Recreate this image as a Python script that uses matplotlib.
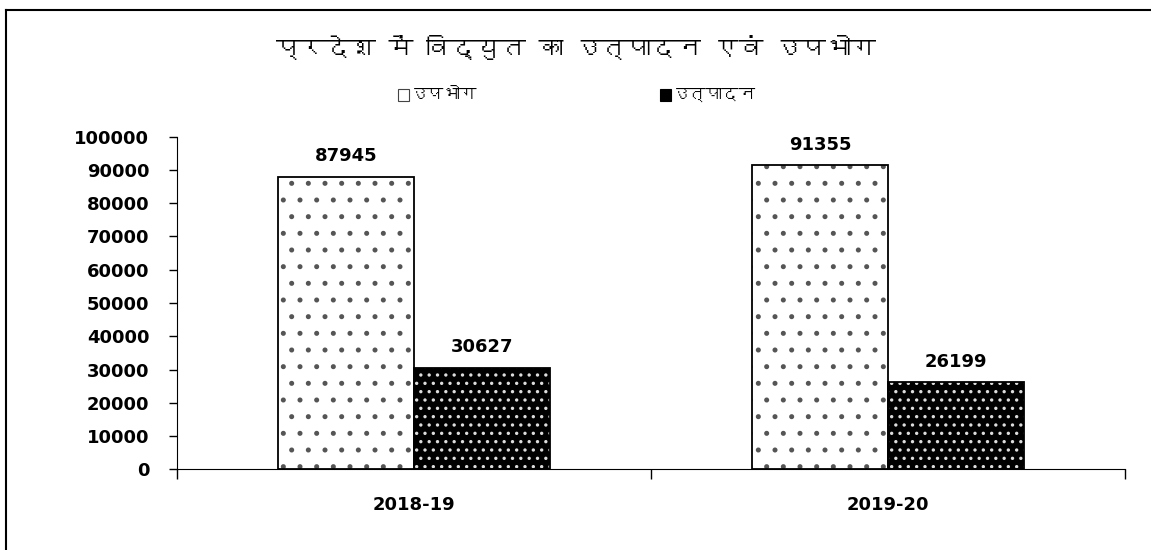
import matplotlib
matplotlib.use("Agg")
import matplotlib.pyplot as plt
from matplotlib import font_manager
from matplotlib.patches import Rectangle
from matplotlib.lines import Line2D
import numpy as np

# datos
categories = ["2018-19", "2019-20"]
upbhog = [87945, 91355]      # उपभोग
utpadan = [30627, 26199]     # उत्पादन
series_names = ["उपभोग", "उत्पादन"]
title = "प्रदेश में विद्युत का उत्पादन एवं उपभोग"
yticks = list(range(0, 100001, 10000))


def find_devanagari_font():
    """Busca una fuente instalada con glifos devanagari."""
    try:
        from fontTools.ttLib import TTFont
    except ImportError:
        return None
    for f in font_manager.fontManager.ttflist:
        try:
            tt = TTFont(f.fname, fontNumber=0, lazy=True)
            cmap = tt.getBestCmap() or {}
            if 0x0915 in cmap and 0x092A in cmap:
                return f.name
        except Exception:
            continue
    return None


deva = find_devanagari_font()
hindi_family = [deva, "DejaVu Sans"] if deva else ["DejaVu Sans"]
num_font = "DejaVu Sans"
plt.rcParams["hatch.linewidth"] = 1.2

fig = plt.figure(figsize=(11.51, 5.50), dpi=100)
ax = fig.add_axes([0.1538, 0.1464, 0.8236, 0.6054])

x = np.arange(len(categories))
w = 0.287

# serie 1: blanca con puntos
ax.bar(x - w / 2, upbhog, w, color="white", edgecolor="#555555",
       hatch=".", linewidth=0, zorder=2)
ax.bar(x - w / 2, upbhog, w, fill=False, edgecolor="black", linewidth=1.3, zorder=3)
# serie 2: negra con puntos blancos
ax.bar(x + w / 2, utpadan, w, color="black", edgecolor="#dddddd",
       hatch="..", linewidth=0, zorder=2)
ax.bar(x + w / 2, utpadan, w, fill=False, edgecolor="black", linewidth=1.3, zorder=3)

for xi, v in list(zip(x - w / 2, upbhog)) + list(zip(x + w / 2, utpadan)):
    ax.text(xi, v + 3500, str(v), ha="center", va="bottom",
            fontsize=13, fontweight="bold", family=num_font)

ax.set_xlim(-0.5, 1.5)
ax.set_ylim(0, 100000)
ax.set_yticks(yticks)
ax.set_yticklabels([str(t) for t in yticks], fontsize=13, fontweight="bold", family=num_font)
ax.set_xticks([-0.5, 0.5, 1.5])
ax.set_xticklabels([])
ax.tick_params(axis="x", length=7, width=1, direction="out")
ax.tick_params(axis="y", length=6, width=1, direction="out", pad=14)
for i, c in enumerate(categories):
    ax.text(i, -10800, c, ha="center", va="center", fontsize=13,
            fontweight="bold", family=num_font)

for s in ["top", "right"]:
    ax.spines[s].set_visible(False)

fig.text(0.5, 1 - 47 / 550, title, ha="center", va="center",
         fontsize=18, family=hindi_family)

# leyenda manual
lx1, lx2, ly = 398 / 1151, 660 / 1151, 1 - 95 / 550
pw, ph = 11 / 1151, 11 / 550
fig.patches.append(Rectangle((lx1, ly - ph / 2), pw, ph, transform=fig.transFigure,
                             facecolor="white", edgecolor="#444444", lw=0.8))
fig.patches.append(Rectangle((lx2, ly - ph / 2), pw, ph, transform=fig.transFigure,
                             facecolor="black", edgecolor="black", lw=0.8))
fig.text(lx1 + pw + 0.002, ly, series_names[0], ha="left", va="center",
         fontsize=12, family=hindi_family)
fig.text(lx2 + pw + 0.002, ly, series_names[1], ha="left", va="center",
         fontsize=12, family=hindi_family)

# borde exterior (solo izquierda y arriba, recortado)
fig.add_artist(Line2D([5.5 / 1151, 5.5 / 1151], [0, 1 - 10 / 550],
                      transform=fig.transFigure, color="black", lw=1.5))
fig.add_artist(Line2D([5.5 / 1151, 1], [1 - 10 / 550, 1 - 10 / 550],
                      transform=fig.transFigure, color="black", lw=1.5))

fig.savefig("out.png", dpi=100)
plt.close(fig)
